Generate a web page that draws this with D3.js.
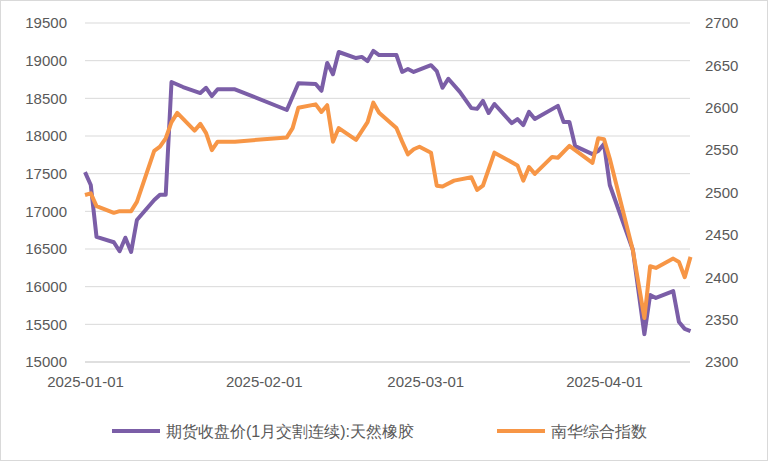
<!DOCTYPE html>
<html><head><meta charset="utf-8">
<script src="https://cdn.jsdelivr.net/npm/d3@7"></script>
<style>body{margin:0;background:#fff}svg{display:block}</style>
</head><body><svg id="c" width="768" height="461"></svg>
<script>
const seriesNames = ["期货收盘价(1月交割连续):天然橡胶", "南华综合指数"];
const rubberDates = ["01-01","01-02","01-03","01-06","01-07","01-08","01-09","01-10","01-13","01-14","01-15","01-16","01-18","01-21","01-22","01-23","01-24","01-27","02-05","02-07","02-10","02-11","02-12","02-13","02-14","02-17","02-18","02-19","02-20","02-21","02-24","02-25","02-26","02-27","03-02","03-03","03-04","03-05","03-07","03-09","03-10","03-11","03-12","03-13","03-16","03-17","03-18","03-19","03-20","03-24","03-25","03-26","03-27","03-30","03-31","04-01","04-02","04-06","04-08","04-09","04-10","04-13","04-14","04-15","04-16"];
const rubberValues = [17520,17350,16660,16590,16470,16650,16460,16885,17150,17220,17220,18717,18650,18570,18640,18530,18620,18620,18345,18700,18690,18600,18970,18820,19115,19035,19050,18995,19130,19075,19075,18850,18890,18850,18940,18860,18640,18760,18585,18370,18360,18465,18305,18425,18170,18225,18145,18320,18225,18400,18185,18185,17865,17760,17800,17895,17350,16490,15370,15890,15850,15940,15530,15440,15410];
const nanhuaDates = ["01-01","01-02","01-03","01-06","01-07","01-09","01-10","01-13","01-14","01-15","01-16","01-17","01-20","01-21","01-22","01-23","01-24","01-27","02-05","02-06","02-07","02-10","02-11","02-12","02-13","02-14","02-17","02-19","02-20","02-21","02-24","02-25","02-26","02-27","02-28","03-02","03-03","03-04","03-06","03-09","03-10","03-11","03-13","03-17","03-18","03-19","03-20","03-23","03-24","03-26","03-30","03-31","04-01","04-02","04-06","04-08","04-09","04-10","04-13","04-14","04-15","04-16"];
const nanhuaValues = [2497,2499,2484,2476,2478,2478,2489,2549,2554,2564,2583,2594,2573,2581,2570,2550,2560,2560,2565,2576,2600,2604,2595,2603,2560,2576,2562,2583,2606,2594,2576,2560,2545,2551,2554,2547,2508,2507,2514,2518,2503,2508,2547,2532,2514,2530,2522,2542,2541,2555,2535,2564,2563,2540,2432,2352,2413,2411,2422,2418,2400,2424];
const xTicks = ["2025-01-01","2025-02-01","2025-03-01","2025-04-01"];
const leftTicks = [15000,15500,16000,16500,17000,17500,18000,18500,19000,19500];
const rightTicks = [2300,2350,2400,2450,2500,2550,2600,2650,2700];

const svg = d3.select("#c");
const font = "'Liberation Sans', Arial, sans-serif";
const p = s => d3.utcParse("%Y-%m-%d")("2025-" + s);
const x = d3.scaleUtc().domain([d3.utcParse("%Y-%m-%d")(xTicks[0]), d3.utcParse("%Y-%m-%d")(xTicks[3])]).range([85,604]);
const yL = d3.scaleLinear().domain([15000,19500]).range([362,23]);
const yR = d3.scaleLinear().domain([2300,2700]).range([362,23]);

svg.append("g").selectAll("line").data(leftTicks.slice(1)).join("line")
  .attr("x1",85).attr("x2",690).attr("y1",d=>yL(d)).attr("y2",d=>yL(d))
  .attr("stroke","#d9d9d9").attr("stroke-width",1);
svg.append("line").attr("x1",85).attr("x2",690).attr("y1",yL(15000)).attr("y2",yL(15000)).attr("stroke","#bfbfbf");

const gl = svg.append("g").attr("transform","translate(85,0)").call(d3.axisLeft(yL).tickValues(leftTicks).tickFormat(d3.format("d")).tickSize(0).tickPadding(18));
const gr = svg.append("g").attr("transform","translate(690,0)").call(d3.axisRight(yR).tickValues(rightTicks).tickFormat(d3.format("d")).tickSize(0).tickPadding(15));
const gx = svg.append("g").attr("transform","translate(0,362)").call(d3.axisBottom(x).tickValues(xTicks.map(t=>d3.utcParse("%Y-%m-%d")(t))).tickFormat(d3.utcFormat("%Y-%m-%d")).tickSize(0).tickPadding(14));
[gl,gr,gx].forEach(g=>{g.select(".domain").remove();g.selectAll("text").attr("font-family",font).attr("font-size",15).attr("fill","#595959");});

const lineL = d3.line().x(d=>x(p(d[0]))).y(d=>yL(d[1]));
const lineR = d3.line().x(d=>x(p(d[0]))).y(d=>yR(d[1]));
svg.append("path").datum(rubberDates.map((d,i)=>[d,rubberValues[i]])).attr("d",lineL)
  .attr("fill","none").attr("stroke","#7B5EA7").attr("stroke-width",4).attr("stroke-linejoin","round");
svg.append("path").datum(nanhuaDates.map((d,i)=>[d,nanhuaValues[i]])).attr("d",lineR)
  .attr("fill","none").attr("stroke","#F79646").attr("stroke-width",4).attr("stroke-linejoin","round");

const leg = [{c:"#7B5EA7",x:112,t:seriesNames[0]},{c:"#F79646",x:497,t:seriesNames[1]}];
leg.forEach(l=>{
  svg.append("line").attr("x1",l.x).attr("x2",l.x+48).attr("y1",431).attr("y2",431).attr("stroke",l.c).attr("stroke-width",4);
  svg.append("text").attr("x",l.x+54).attr("y",437).text(l.t).attr("font-family",font).attr("font-size",16).attr("fill","#595959");
});
svg.append("rect").attr("x",0.5).attr("y",0.5).attr("width",767).attr("height",460).attr("fill","none").attr("stroke","#d9d9d9");
</script></body></html>
